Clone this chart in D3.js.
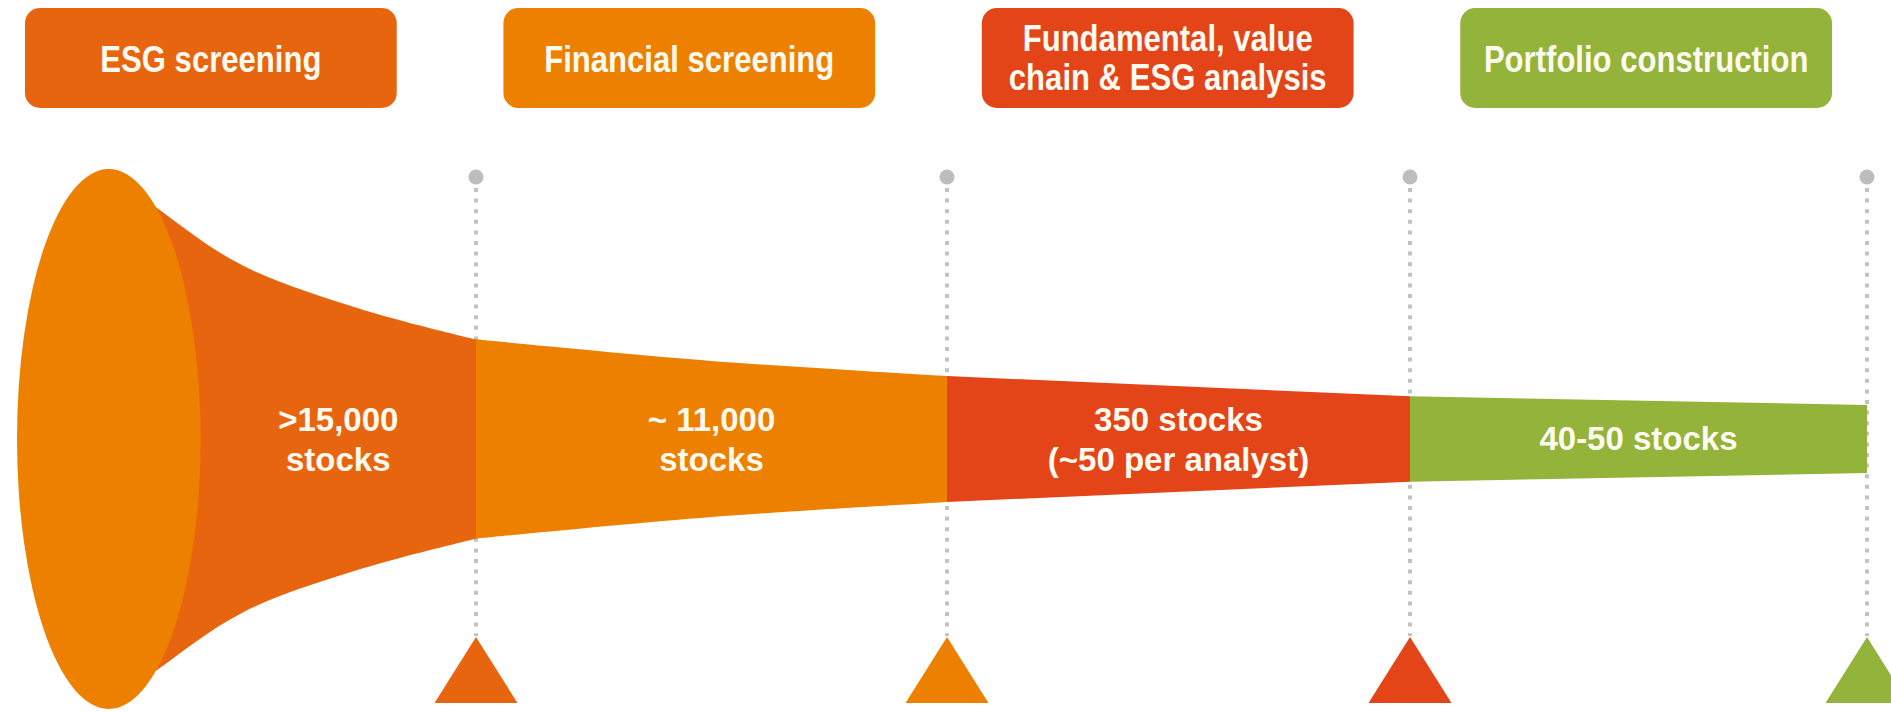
<!DOCTYPE html>
<head>
  <meta charset="utf-8">
  <script src="https://cdn.jsdelivr.net/npm/d3@7/dist/d3.min.js"></script>
  <style>
    body { margin:0; background:#fff; }
    text { fill:#fffaf0; font-weight:bold; }
    .box-label { font-family:"Liberation Sans",Arial,sans-serif; font-size:37px; }
    .stage-label { font-family:"Liberation Sans",Arial,sans-serif; font-size:33px; }
  </style>
</head>

<body>
  <script>
    var width = 1891,
        height = 712;

    // stages of the process
    var stages = ["ESG screening", "Financial screening", "Fundamental, value|chain & ESG analysis", "Portfolio construction"];
    var stageLabels = [">15,000|stocks", "~ 11,000|stocks", "350 stocks|(~50 per analyst)", "40-50 stocks"];
    var stageColors = ["#e8650f", "#ee8000", "#e34518", "#93b33a"];

    // funnel profile: position along the funnel (gate units) and relative width (mouth = 100)
    var profileT = [0.2, 0.305, 0.49, 0.75, 1, 1.5, 2, 3, 4];
    var profileW = [99.5, 85.6, 64.4, 48.1, 36.9, 28.9, 23.3, 15.8, 12.6];
    var mouthT = 0.2;

    var svg = d3.select("body")
      .append("svg")
      .attr("width", width)
      .attr("height", height);

    var x = d3.scaleLinear().domain([0, 1, 2, 3, 4]).range([17, 476, 947, 1410, 1867]);
    var w = d3.scaleLinear().domain([0, 100]).range([0, 270]);
    var cy = 439;

    var band = d3.scaleBand().domain(d3.range(stages.length)).range([25, 1832]).paddingInner(0.223);

    // header boxes
    var boxes = svg.selectAll("g.box").data(stages).enter().append("g")
      .attr("class", "box")
      .attr("transform", function(d, i) { return "translate(" + band(i) + ",8)"; });

    boxes.append("rect")
      .attr("width", band.bandwidth())
      .attr("height", 100)
      .attr("rx", 15)
      .attr("fill", function(d, i) { return stageColors[i]; });

    // narrow type: squeeze the text horizontally
    boxes.append("g")
      .attr("transform", "translate(" + band.bandwidth() / 2 + ",0) scale(0.84,1)")
      .append("text")
      .attr("class", "box-label")
      .attr("text-anchor", "middle")
      .each(function(d) {
        var lines = d.split("|");
        var t = d3.select(this);
        lines.forEach(function(l, k) {
          t.append("tspan")
            .attr("x", 0)
            .attr("y", lines.length == 1 ? 64 : 43 + k * 39)
            .text(l);
        });
      });

    // gates: dotted lines, dots and triangles
    var gates = d3.range(1, stages.length + 1);

    svg.selectAll("line.gate").data(gates).enter().append("line")
      .attr("x1", function(d) { return x(d); })
      .attr("x2", function(d) { return x(d); })
      .attr("y1", 188)
      .attr("y2", 636)
      .attr("stroke", "#c2c2c2")
      .attr("stroke-width", 4)
      .attr("stroke-dasharray", "4 6.6");

    svg.selectAll("circle.gate").data(gates).enter().append("circle")
      .attr("cx", function(d) { return x(d); })
      .attr("cy", 177)
      .attr("r", 7.5)
      .attr("fill", "#bdbdbd");

    svg.selectAll("path.tri").data(gates).enter().append("path")
      .attr("d", function(d) {
        var gx = x(d);
        return "M" + gx + ",637L" + (gx + 41.5) + ",703L" + (gx - 41.5) + ",703Z";
      })
      .attr("fill", function(d, i) { return stageColors[i]; });

    // funnel sections
    var profile = profileT.map(function(t, i) { return { t: t, w: profileW[i] }; });

    var area = d3.area()
      .x(function(d) { return x(d.t); })
      .y0(function(d) { return cy - w(d.w); })
      .y1(function(d) { return cy + w(d.w); })
      .curve(d3.curveCatmullRom.alpha(0.5));

    svg.selectAll("path.section").data(stages).enter().append("path")
      .attr("class", "section")
      .attr("d", function(d, i) {
        return area(profile.filter(function(p) { return p.t >= i && p.t <= i + 1; }));
      })
      .attr("fill", function(d, i) { return stageColors[i]; });

    // mouth of the funnel
    svg.append("ellipse")
      .attr("cx", x(mouthT))
      .attr("cy", cy)
      .attr("rx", x(mouthT) - x(0))
      .attr("ry", w(100))
      .attr("fill", stageColors[1]);

    // stage labels
    svg.selectAll("text.stage-label").data(stageLabels).enter().append("text")
      .attr("class", "stage-label")
      .attr("text-anchor", "middle")
      .each(function(d, i) {
        var lines = d.split("|");
        var left = i == 0 ? x(mouthT) + (x(mouthT) - x(0)) : x(i);
        var cx = (left + x(i + 1)) / 2;
        var t = d3.select(this);
        lines.forEach(function(l, k) {
          t.append("tspan")
            .attr("x", cx)
            .attr("y", lines.length == 1 ? cy + 11 : cy - 8 + k * 40)
            .text(l);
        });
      });
  </script>
</body>
